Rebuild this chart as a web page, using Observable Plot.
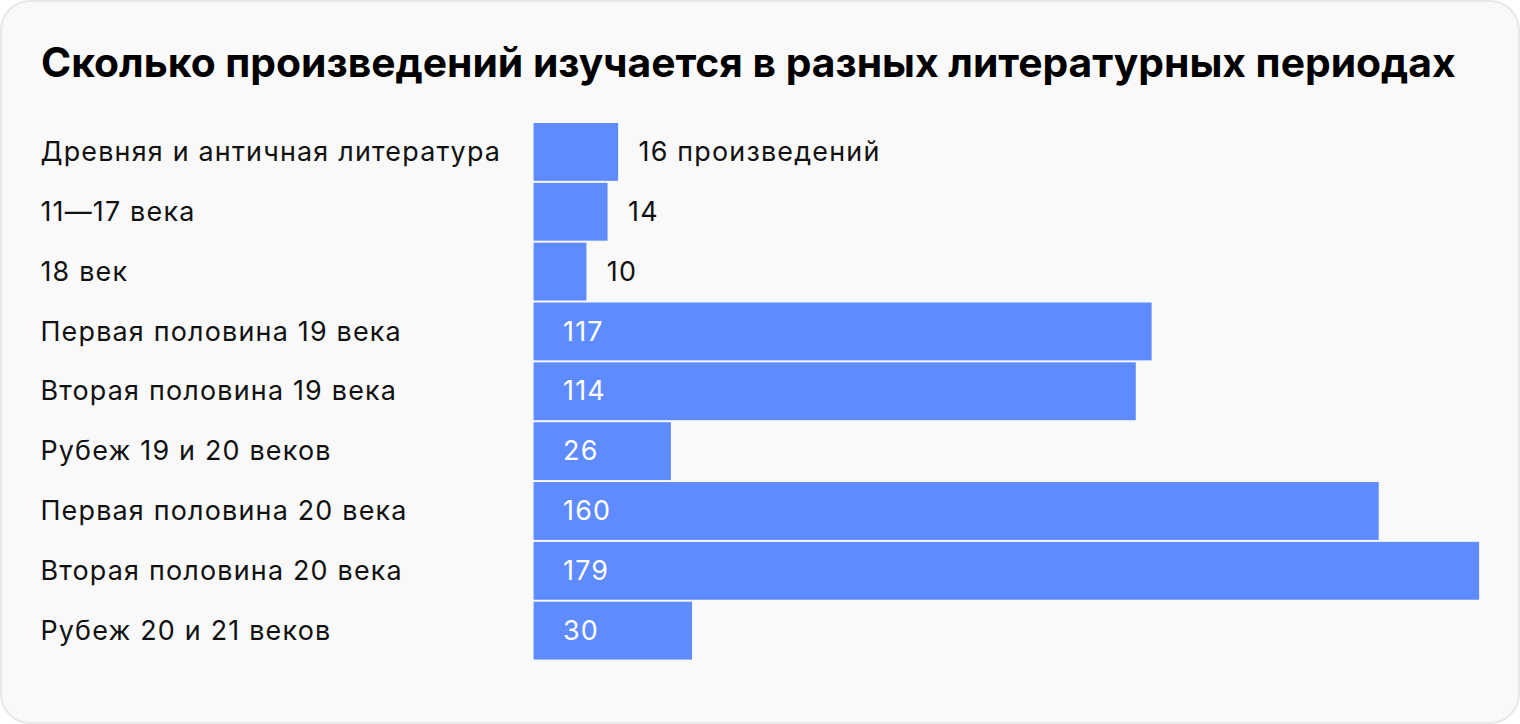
<!DOCTYPE html>
<html>
<head>
<meta charset="utf-8">
<script src="https://cdn.jsdelivr.net/npm/d3@7"></script>
<script src="https://cdn.jsdelivr.net/npm/@observablehq/plot@0.6"></script>
<style>
  html, body { margin: 0; padding: 0; background: #ffffff; }
  #card {
    position: relative; width: 1520px; height: 724px; box-sizing: border-box;
    background: #f9f9f9; border: 2px solid #e8e8e8; border-radius: 30px; overflow: hidden;
    font-family: Inter, Roboto, sans-serif;
  }
  #title {
    position: absolute; left: 39px; top: 35px; margin: 0;
    font-size: 40.8px; font-weight: 700; color: #000; white-space: nowrap;
  }
  #chart { position: absolute; left: 0px; top: 116px; }
  #chart text { letter-spacing: 1.2px; }
</style>
</head>
<body>
<div id="card">
  <div id="title">Сколько произведений изучается в разных литературных периодах</div>
  <div id="chart"></div>
</div>
<script>
const periods = [
  "Древняя и античная литература",
  "11—17 века",
  "18 век",
  "Первая половина 19 века",
  "Вторая половина 19 века",
  "Рубеж 19 и 20 веков",
  "Первая половина 20 века",
  "Вторая половина 20 века",
  "Рубеж 20 и 21 веков"
];
const counts = [16, 14, 10, 117, 114, 26, 160, 179, 30];
const valueLabels = ["16 произведений", "14", "10", "117", "114", "26", "160", "179", "30"];

const data = periods.map((p, i) => ({period: p, count: counts[i], label: valueLabels[i], inside: counts[i] >= 20}));

const chart = Plot.plot({
  width: 1520,
  height: 546,
  marginLeft: 533,
  marginRight: 39,
  marginTop: 4,
  marginBottom: 2,
  style: {background: "transparent", fontFamily: "Inter, Roboto, sans-serif"},
  x: {domain: [0, 179], axis: null},
  y: {domain: periods, axis: null, padding: 0},
  marks: [
    Plot.barX(data, {y: "period", x: "count", fill: "#5e8bff", insetTop: 1, insetBottom: 1}),
    Plot.text(data, {y: "period", text: "period", frameAnchor: "left", textAnchor: "start", dx: -495, fontSize: 27, fill: "#111"}),
    Plot.text(data.filter(d => d.inside), {y: "period", x: 0, text: "label", textAnchor: "start", dx: 29, fontSize: 27, fill: "#ffffff"}),
    Plot.text(data.filter(d => !d.inside), {y: "period", x: "count", text: "label", textAnchor: "start", dx: 20, fontSize: 27, fill: "#111"})
  ]
});
document.getElementById("chart").appendChild(chart);
</script>
</body>
</html>
